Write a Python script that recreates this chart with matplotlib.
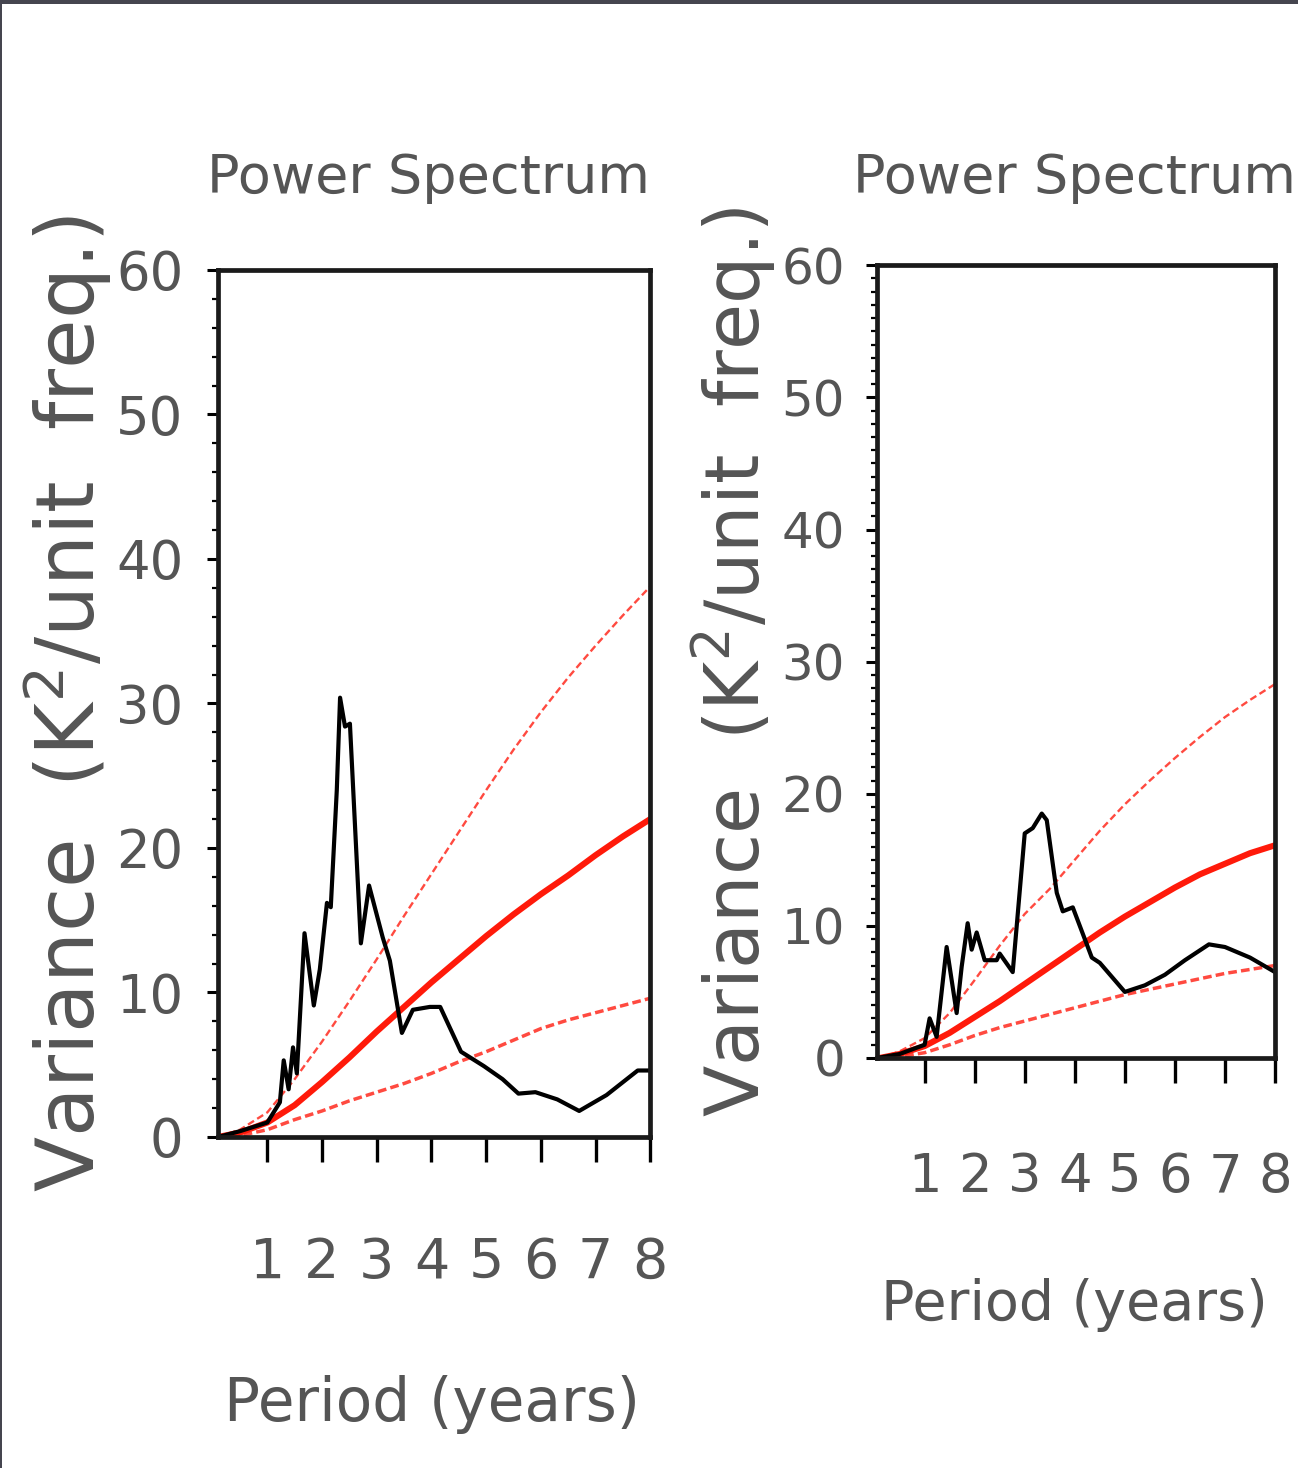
import matplotlib.pyplot as plt
from matplotlib.ticker import MultipleLocator
from matplotlib.patches import Rectangle

# Data
# left panel
left_period = [0.1, 0.5, 1.0, 1.23, 1.3, 1.39, 1.47, 1.54, 1.68, 1.85, 1.96, 2.09, 2.16, 2.27,
               2.33, 2.42, 2.51, 2.71, 2.86, 3.11, 3.24, 3.46, 3.66, 3.97, 4.16, 4.54, 4.96,
               5.3, 5.59, 5.9, 6.3, 6.7, 7.2, 7.77, 8.0]
left_power = [0.0, 0.4, 1.0, 2.4, 5.3, 3.3, 6.2, 4.4, 14.1, 9.1, 11.6, 16.2, 15.9, 24.0,
              30.4, 28.4, 28.6, 13.4, 17.4, 13.8, 12.2, 7.2, 8.8, 9.0, 9.0, 5.9, 4.9,
              4.0, 3.0, 3.1, 2.6, 1.8, 2.9, 4.6, 4.6]

# right panel
right_period = [0.05, 0.5, 1.0, 1.1, 1.24, 1.44, 1.64, 1.74, 1.86, 1.94, 2.04, 2.2, 2.44, 2.5,
                2.76, 3.0, 3.16, 3.34, 3.44, 3.64, 3.76, 3.96, 4.34, 4.5, 5.0, 5.4, 5.8,
                6.2, 6.68, 7.0, 7.5, 8.0]
right_power = [0.0, 0.3, 1.0, 3.0, 1.6, 8.4, 3.4, 6.9, 10.2, 8.2, 9.5, 7.4, 7.4, 7.9,
               6.5, 17.0, 17.4, 18.5, 18.0, 12.5, 11.1, 11.4, 7.6, 7.2, 5.0, 5.5, 6.3,
               7.4, 8.6, 8.4, 7.6, 6.5]

# red-noise background and confidence curves
noise_period = [0.1, 0.5, 1.0, 1.5, 2.0, 2.5, 3.0, 3.5, 4.0, 4.5, 5.0, 5.5, 6.0, 6.5, 7.0, 7.5, 8.0]
left_mean = [0.0, 0.3, 1.0, 2.2, 3.8, 5.5, 7.3, 9.0, 10.7, 12.3, 13.9, 15.4, 16.8, 18.1, 19.5, 20.8, 22.0]
left_upper = [0.0, 0.5, 1.7, 4.0, 6.6, 9.4, 12.3, 15.3, 18.2, 21.1, 24.0, 26.8, 29.4, 31.8, 34.0, 36.1, 38.1]
left_lower = [0.0, 0.1, 0.5, 1.2, 1.8, 2.5, 3.1, 3.7, 4.4, 5.2, 5.9, 6.7, 7.5, 8.1, 8.6, 9.1, 9.6]
right_mean = [0.0, 0.3, 0.9, 1.9, 3.1, 4.3, 5.6, 6.9, 8.2, 9.5, 10.7, 11.8, 12.9, 13.9, 14.7, 15.5, 16.1]
right_upper = [0.0, 0.5, 1.5, 3.4, 5.9, 8.5, 10.9, 12.8, 15.0, 17.2, 19.2, 21.0, 22.7, 24.3, 25.8, 27.1, 28.3]
right_lower = [0.0, 0.1, 0.4, 1.0, 1.7, 2.3, 2.8, 3.3, 3.8, 4.3, 4.8, 5.2, 5.6, 6.0, 6.4, 6.7, 7.0]

xticks = [1, 2, 3, 4, 5, 6, 7, 8]
yticks = [0, 10, 20, 30, 40, 50, 60]

plt.rcParams['font.family'] = ['DejaVu Sans']
TXT = '#555555'
RED = '#ff1a0a'
RED_LIGHT = '#ff4a40'

fig = plt.figure(figsize=(12.98, 14.68), dpi=100)
fig.patch.set_facecolor('white')

ax1 = fig.add_axes([0.168, 0.2255, 0.333, 0.5906])
ax2 = fig.add_axes([0.6757, 0.2793, 0.3066, 0.540])

# per panel: axes, data, minor step, x start, font sizes, pads, label/title spots
panels = [
    (ax1, left_period, left_power, left_mean, left_upper, left_lower, 2, 0.1,
     38, 40, 43, 58, 53, 17, (-0.35, 0.50), (0.495, -0.309), (0.486, 1.106)),
    (ax2, right_period, right_power, right_mean, right_upper, right_lower, 1, 0.05,
     36, 38, 40, 54, 49, 15, (-0.36, 0.50), (0.497, -0.311), (0.497, 1.11)),
]

for (ax, per, pw, mean, up, lo, minor, x0, ytsize, xtsize, xlsize, ylsize,
     xpad, ypad, ylab_xy, xlab_xy, title_xy) in panels:
    ax.plot(noise_period, up, color=RED_LIGHT, lw=1.7, dashes=(3, 1.6))
    ax.plot(noise_period, lo, color=RED_LIGHT, lw=2.5, dashes=(2.5, 1.2))
    ax.plot(noise_period, mean, color=RED, lw=4.4)
    ax.plot(per, pw, color='black', lw=3.0)

    ax.set_xlim(x0, 8)
    ax.set_ylim(0, 60)
    ax.set_xticks(xticks)
    ax.set_yticks(yticks)
    ax.yaxis.set_minor_locator(MultipleLocator(minor))
    for s in ax.spines.values():
        s.set_linewidth(3.4)
        s.set_color('#1a1a1a')

    ax.tick_params(axis='x', direction='out', length=18, width=2.4, pad=xpad,
                   labelsize=xtsize, labelcolor=TXT)
    ax.tick_params(axis='y', which='major', direction='out', length=8, width=2.2, pad=ypad,
                   labelsize=ytsize, labelcolor=TXT)
    ax.tick_params(axis='y', which='minor', direction='out', length=4, width=1.6)

    ax.set_ylabel('Variance  (K$^2$/unit  freq.)', fontsize=ylsize, color=TXT)
    ax.yaxis.set_label_coords(*ylab_xy)
    ax.yaxis.label.set_va('center')
    ax.set_xlabel('Period (years)', fontsize=xlsize, color=TXT)
    ax.xaxis.set_label_coords(*xlab_xy)
    ax.xaxis.label.set_va('center')
    ax.text(title_xy[0], title_xy[1], 'Power Spectrum', transform=ax.transAxes,
            ha='center', va='center', fontsize=39, color=TXT)

# dark frame edge along top and left
fig.add_artist(Rectangle((0, 0.997), 1, 0.003, transform=fig.transFigure,
                         facecolor='#45454f', edgecolor='none'))
fig.add_artist(Rectangle((0, 0), 0.0015, 1, transform=fig.transFigure,
                         facecolor='#45454f', edgecolor='none'))

fig.savefig('out.png', dpi=100)
